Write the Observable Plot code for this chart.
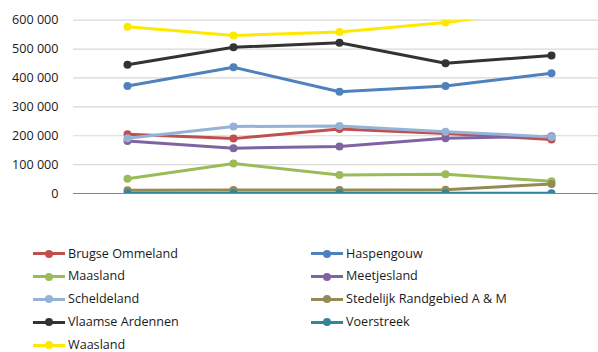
<!DOCTYPE html>
<html>
<head>
<meta charset="utf-8">
<script src="https://cdn.jsdelivr.net/npm/d3@7"></script>
<script src="https://cdn.jsdelivr.net/npm/@observablehq/plot@0.6"></script>
<style>
  html, body { margin: 0; padding: 0; background: #fff; }
  body { width: 598px; height: 352px; overflow: hidden; font-family: "Open Sans", sans-serif; }
  #chart svg { display: block; }
  #legend { display: grid; grid-template-columns: 278px 260px; padding-left: 33px; padding-top: 27.5px; }
  .item { display: flex; align-items: center; height: 22.8px; font-size: 12.6px; color: #1a1a1a; }
  .item .t { line-height: 1; }
  .sw { position: relative; width: 32px; height: 3px; margin-right: 3px; }
  .sw i { position: absolute; left: 12px; top: -2.5px; width: 8px; height: 8px; border-radius: 50%; }
</style>
</head>
<body>
<div id="chart"></div>
<div id="legend"></div>
<script>
const periods = [1, 2, 3, 4, 5];
const seriesNames = ["Brugse Ommeland", "Haspengouw", "Maasland", "Meetjesland", "Scheldeland",
  "Stedelijk Randgebied A & M", "Vlaamse Ardennen", "Voerstreek", "Waasland"];
const brugseOmmeland = [205000, 190000, 223000, 208000, 187000];
const haspengouw = [372000, 437000, 352000, 372000, 416000];
const maasland = [51000, 104000, 64000, 67000, 42000];
const meetjesland = [182000, 157000, 163000, 191000, 198000];
const scheldeland = [191000, 232000, 234000, 214000, 196000];
const stedelijkRandgebied = [11000, 12000, 12000, 13000, 33000];
const vlaamseArdennen = [446000, 506000, 522000, 451000, 478000];
const voerstreek = [1000, 1000, 1000, 1000, 1000];
const waasland = [577000, 547000, 559000, 592000, 640000];
const colors = ["#C0504D", "#4F81BD", "#9BBB59", "#8064A2", "#95B3D7",
  "#948A54", "#333333", "#31859C", "#FFE800"];
const yTicks = [0, 100000, 200000, 300000, 400000, 500000, 600000];

const seriesValues = [brugseOmmeland, haspengouw, maasland, meetjesland, scheldeland,
  stedelijkRandgebied, vlaamseArdennen, voerstreek, waasland];
const data = [];
seriesNames.forEach((name, i) => {
  periods.forEach((p, j) => data.push({series: name, period: p, value: seriesValues[i][j]}));
});

const fmt = v => d3.format(",")(v).replace(/,/g, " ");

const H = 215;
const chart = Plot.plot({
  width: 598,
  height: H,
  marginLeft: 73,
  marginRight: 0,
  marginTop: 19.7,
  marginBottom: H - 193,
  style: {fontFamily: "Open Sans, sans-serif", fontSize: "12.6px", color: "#1a1a1a", background: "#fff"},
  x: {type: "point", domain: periods, range: [126, 551], padding: 0, axis: null},
  y: {domain: [0, 600000], ticks: yTicks, tickFormat: fmt, tickSize: 0, tickPadding: 15, label: null},
  color: {domain: seriesNames, range: colors},
  marks: [
    Plot.ruleY(yTicks.filter(d => d > 0), {stroke: "#d9d9d9", strokeWidth: 1.2}),
    Plot.ruleY([0], {stroke: "#868686", strokeWidth: 1}),
    Plot.line(data, {x: "period", y: "value", z: "series", stroke: "series", strokeWidth: 3, clip: true}),
    Plot.dot(data, {x: "period", y: "value", fill: "series", r: 4, clip: true})
  ]
});
document.getElementById("chart").appendChild(chart);

const legend = document.getElementById("legend");
seriesNames.forEach((name, i) => {
  const d = document.createElement("div");
  d.className = "item";
  d.innerHTML = `<span class="sw" style="background:${colors[i]}"><i style="background:${colors[i]}"></i></span><span class="t"></span>`;
  d.lastChild.textContent = name;
  legend.appendChild(d);
});
</script>
</body>
</html>
